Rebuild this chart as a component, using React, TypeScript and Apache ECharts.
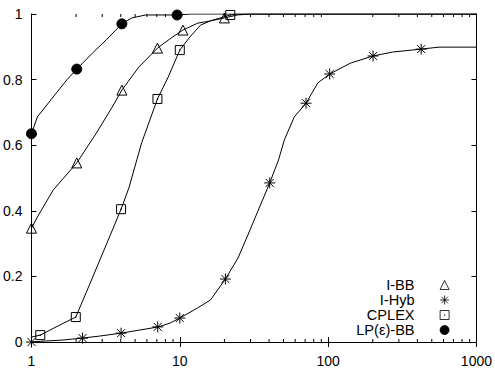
import React, { useEffect, useRef } from "react";
import * as echarts from "echarts";

// ---- data (ratio t on log axis, fraction of problems) ----
const lpCurveT = [1, 1.096, 1.4, 1.73, 2.02, 2.58, 3.19, 4.07, 4.75, 5.89, 9.45, 12, 1000];
const lpCurveV = [0.635, 0.686, 0.747, 0.799, 0.832, 0.881, 0.921, 0.97, 0.988, 0.997, 0.997, 1, 1];
const lpMarkT = [1, 2.02, 4.07, 9.6];
const lpMarkV = [0.635, 0.832, 0.97, 0.997];

const ibbCurveT = [1, 1.096, 1.4, 2.02, 2.74, 3.5, 4.07, 5.29, 7.07, 8.76, 10.5, 13.2, 16.1, 20.0, 24.4, 30, 1000];
const ibbCurveV = [0.347, 0.381, 0.463, 0.546, 0.637, 0.716, 0.768, 0.838, 0.896, 0.927, 0.951, 0.972, 0.979, 0.988, 0.997, 1, 1];
const ibbMarkT = [1, 2.02, 4.07, 7.07, 10.5, 20.0];
const ibbMarkV = [0.347, 0.546, 0.768, 0.896, 0.951, 0.988];

const cplexCurveT = [1, 1.147, 1.557, 1.99, 2.46, 3.19, 4.02, 4.54, 5.53, 7.07, 8.36, 10.0, 11.7, 13.8, 16.1, 21.9, 24.4, 1000];
const cplexCurveV = [0.015, 0.021, 0.052, 0.076, 0.174, 0.296, 0.405, 0.47, 0.607, 0.741, 0.808, 0.89, 0.93, 0.966, 0.979, 0.997, 1, 1];
const cplexMarkT = [1.147, 1.99, 4.02, 7.07, 10.0, 21.9];
const cplexMarkV = [0.021, 0.076, 0.405, 0.741, 0.89, 0.997];

const hybCurveT = [1, 1.147, 1.63, 2.21, 2.87, 4.02, 5.29, 7.18, 8.62, 10.0, 13.2, 16.1, 20.3, 24.7, 28.4, 40.4, 46.3, 50.7, 59.1, 71.0, 85.3, 102.5, 141, 201, 272, 424, 559, 1000];
const hybCurveV = [0, 0.002, 0.006, 0.012, 0.018, 0.027, 0.036, 0.046, 0.058, 0.073, 0.104, 0.128, 0.192, 0.256, 0.32, 0.485, 0.555, 0.616, 0.686, 0.728, 0.79, 0.817, 0.85, 0.872, 0.884, 0.893, 0.899, 0.899];
const hybMarkT = [1, 2.21, 4.02, 7.1, 10.0, 20.3, 40.4, 71.0, 102.5, 201, 424];
const hybMarkV = [0, 0.012, 0.027, 0.046, 0.073, 0.192, 0.485, 0.728, 0.817, 0.872, 0.893];

const legendNames = ["I-BB", "I-Hyb", "CPLEX", "LP(ε)-BB"];
const minorTicks = [2, 3, 4, 5, 6, 7, 8, 9, 20, 30, 40, 50, 60, 70, 80, 90, 200, 300, 400, 500, 600, 700, 800, 900];

const FONT = "'Liberation Sans', Arial, Helvetica, sans-serif";
const STAR = "path://M0,-1L0,1M-1,0L1,0M-0.72,-0.72L0.72,0.72M-0.72,0.72L0.72,-0.72";
const SQUARE = "path://M-1,-1L1,-1L1,1L-1,1ZM-0.06,-0.06L0.06,-0.06L0.06,0.06L-0.06,0.06Z";

const zip = (a: number[], b: number[]) => a.map((v, i) => [v, b[i]]);

export default function App() {
  const ref = useRef<HTMLDivElement>(null);
  useEffect(() => {
    const chart = echarts.init(ref.current!, null, { renderer: "svg" });
    const curve = (name: string, t: number[], v: number[]) => ({
      name,
      type: "line",
      data: zip(t, v),
      showSymbol: false,
      symbol: "none",
      lineStyle: { color: "#000", width: 1 },
      itemStyle: { color: "#000" },
      silent: true,
      z: 2,
    });
    const marks = (name: string, t: number[], v: number[], symbol: string, size: number, fill: string) => ({
      name,
      type: "scatter",
      data: zip(t, v),
      symbol,
      symbolSize: size,
      itemStyle: { color: fill, borderColor: "#000", borderWidth: 1, opacity: 1 },
      silent: true,
      z: 3,
    });
    const legendCenters = [285, 300, 315, 330];
    const legends = legendNames.map((n, i) => ({
      data: [n],
      orient: "vertical",
      align: "right",
      right: 45.5,
      top: legendCenters[i] - 8,
      padding: 0,
      itemWidth: 9,
      itemHeight: 9,
      selectedMode: false,
      itemStyle: { borderWidth: 0.8 },
      textStyle: { fontFamily: FONT, fontSize: 14.6, color: "#000", lineHeight: 16, padding: [0, 20.5, 0, 0] },
    }));
    const option: any = {
      animation: false,
      backgroundColor: "#fff",
      grid: { left: 31, right: 12, top: 14, bottom: 33 },
      legend: legends,
      xAxis: [
        {
          type: "log",
          logBase: 10,
          min: 1,
          max: 1000,
          axisLine: { show: true, lineStyle: { color: "#000", width: 1 } },
          axisTick: { show: true, inside: true, length: 5, lineStyle: { color: "#000" } },
          axisLabel: { color: "#000", fontFamily: FONT, fontSize: 14, margin: 12, formatter: (v: number) => String(Math.round(v)) },
          splitLine: { show: false },
        },
        {
          type: "log",
          logBase: 10,
          min: 1,
          max: 1000,
          position: "top",
          axisLine: { show: true, lineStyle: { color: "#000", width: 1 } },
          axisTick: { show: true, inside: true, length: 5, lineStyle: { color: "#000" } },
          axisLabel: { show: false },
          splitLine: { show: false },
        },
      ],
      yAxis: [
        {
          type: "value",
          min: 0,
          max: 1,
          interval: 0.2,
          axisLine: { show: true, lineStyle: { color: "#000", width: 1 } },
          axisTick: { show: true, inside: true, length: 5, lineStyle: { color: "#000" } },
          axisLabel: { color: "#000", fontFamily: FONT, fontSize: 14, margin: 9 },
          splitLine: { show: false },
        },
        {
          type: "value",
          min: 0,
          max: 1,
          interval: 0.2,
          position: "right",
          axisLine: { show: true, lineStyle: { color: "#000", width: 1 } },
          axisTick: { show: true, inside: true, length: 5, lineStyle: { color: "#000" } },
          axisLabel: { show: false },
          splitLine: { show: false },
        },
      ],
      series: [
        {
          name: "minor-ticks",
          type: "custom",
          coordinateSystem: "cartesian2d",
          xAxisIndex: 0,
          yAxisIndex: 0,
          data: minorTicks.map((v) => [v, 0]),
          encode: { x: 0, y: 1 },
          silent: true,
          clip: false,
          renderItem: (_p: any, api: any) => {
            const v = api.value(0);
            const b = api.coord([v, 0]);
            const t = api.coord([v, 1]);
            return {
              type: "group",
              children: [
                { type: "line", shape: { x1: b[0], y1: b[1], x2: b[0], y2: b[1] - 3 }, style: { stroke: "#000", lineWidth: 1 } },
                { type: "line", shape: { x1: t[0], y1: t[1], x2: t[0], y2: t[1] + 3 }, style: { stroke: "#000", lineWidth: 1 } },
              ],
            };
          },
        },
        curve("c-ibb", ibbCurveT, ibbCurveV),
        curve("c-hyb", hybCurveT, hybCurveV),
        curve("c-cplex", cplexCurveT, cplexCurveV),
        curve("c-lp", lpCurveT, lpCurveV),
        marks(legendNames[0], ibbMarkT, ibbMarkV, "triangle", 10, "transparent"),
        marks(legendNames[1], hybMarkT, hybMarkV, STAR, 11, "transparent"),
        marks(legendNames[2], cplexMarkT, cplexMarkV, SQUARE, 9, "transparent"),
        marks(legendNames[3], lpMarkT, lpMarkV, "circle", 10, "#000"),
      ],
    };
    chart.setOption(option);
    return () => chart.dispose();
  }, []);
  return (
    <div
      ref={ref}
      style={{ position: "fixed", left: 0, top: 0, width: 495, height: 375, background: "#fff" }}
    />
  );
}
